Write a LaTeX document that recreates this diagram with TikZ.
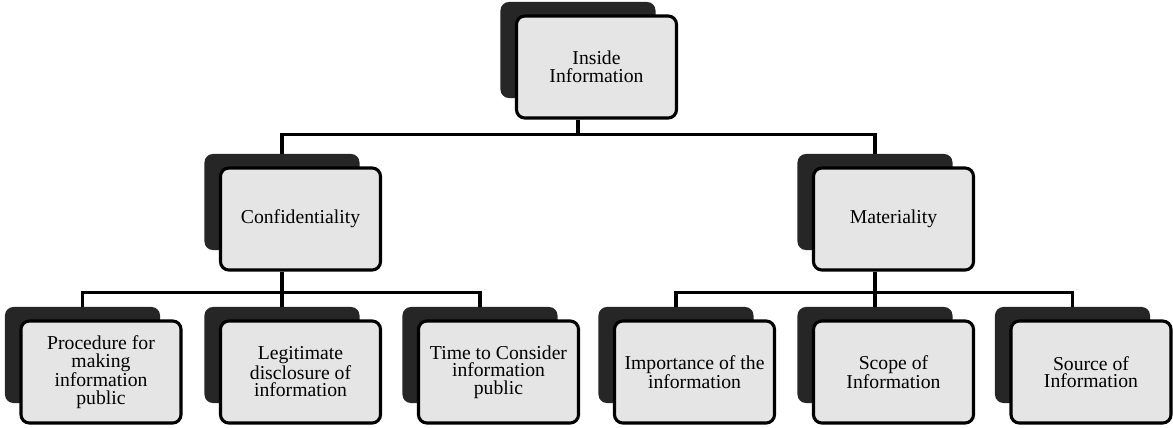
\documentclass[tikz,border=0pt]{standalone}
\usepackage{fontspec}
\setmainfont{Liberation Serif}
\usepackage{xcolor}

\begin{document}
\begin{tikzpicture}[
    x=0.025cm, y=-0.025cm,
    font=\fontsize{14}{12.5}\selectfont,
    backbox/.style={
      rectangle, rounded corners=6pt,
      draw=none, fill=black!85,
      minimum width=3.875cm, minimum height=2.4cm
    },
    frontbox/.style={
      rectangle, rounded corners=6pt,
      draw=black, fill=black!10, line width=2.2pt,
      align=center, inner sep=2pt,
      minimum width=4cm, minimum height=2.55cm
    },
    link/.style={draw=black, line width=2.2pt}
  ]

    \useasboundingbox (0,0) rectangle (1173,428);

    % --- Top level ---
    \node[backbox] (insideback) at (578,50) {};
    \node[frontbox] (inside) at ([shift={(18.5,17)}]insideback.center)
    {Inside\\Information};

    % --- Second level ---
    \node[backbox] (confback) at (282,202) {};
    \node[frontbox] (conf) at ([shift={(18.5,17)}]confback.center)
    {Confidentiality};

    \node[backbox] (matback) at (875,202) {};
    \node[frontbox] (mat) at ([shift={(18.5,17)}]matback.center)
    {Materiality};

    % --- Third level, left ---
    \node[backbox] (procback) at (82.5,355) {};
    \node[frontbox] (proc) at ([shift={(18.5,17)}]procback.center)
    {Procedure for\\making\\information\\public};

    \node[backbox] (legback) at (282,355) {};
    \node[frontbox] (leg) at ([shift={(18.5,17)}]legback.center)
    {Legitimate\\disclosure of\\information};

    \node[backbox] (timeback) at (480,355) {};
    \node[frontbox] (time) at ([shift={(18.5,17)}]timeback.center)
    {Time to Consider\\information\\public};

    % --- Third level, right ---
    \node[backbox] (impback) at (676,355) {};
    \node[frontbox] (imp) at ([shift={(18.5,17)}]impback.center)
    {Importance of the\\information};

    \node[backbox] (scopeback) at (875,355) {};
    \node[frontbox] (scope) at ([shift={(18.5,17)}]scopeback.center)
    {Scope of\\Information};

    \node[backbox] (sourceback) at (1072.5,355) {};
    \node[frontbox] (source) at ([shift={(18.5,17)}]sourceback.center)
    {Source of\\Information};

    % --- Connectors ---
    \draw[link] (insideback |- inside.south) -- ++(0,15) -| (confback.north);
    \draw[link] (insideback |- inside.south) -- ++(0,15) -| (matback.north);

    \draw[link] (confback |- conf.south) -- ++(0,21) -| (procback.north);
    \draw[link] (confback |- conf.south) -- ++(0,21) -| (legback.north);
    \draw[link] (confback |- conf.south) -- ++(0,21) -| (timeback.north);

    \draw[link] (matback |- mat.south) -- ++(0,21) -| (impback.north);
    \draw[link] (matback |- mat.south) -- ++(0,21) -| (scopeback.north);
    \draw[link] (matback |- mat.south) -- ++(0,21) -| (sourceback.north);

\end{tikzpicture}
\end{document}
